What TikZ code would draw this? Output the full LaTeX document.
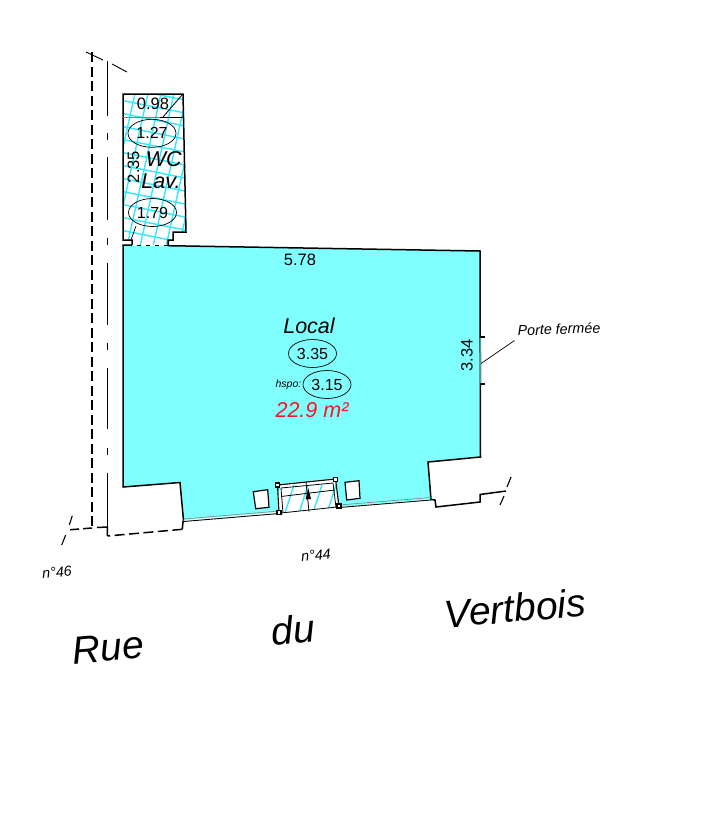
\documentclass[tikz,border=0pt]{standalone}
\usepackage{fontspec}
\setmainfont{Liberation Sans}
\usetikzlibrary{shapes.geometric}
\definecolor{roomblue}{RGB}{128,255,255}
\definecolor{hatchblue}{RGB}{50,232,250}
\tikzset{
  wall/.style={line width=1.5pt,black},
  thin wall/.style={line width=0.9pt,black},
  dim/.style={font=\fontsize{16.5}{16.5}\selectfont,inner sep=0pt},
  height mark/.style={draw,ellipse,line width=0.7pt,inner sep=0pt,font=\fontsize{16}{16}\selectfont,minimum width=48pt,minimum height=28pt},
  room name/.style={font=\itshape\fontsize{21.5}{21.5}\selectfont,inner sep=0pt},
  street/.style={font=\itshape\fontsize{39}{39}\selectfont,inner sep=0pt},
  small label/.style={font=\itshape\fontsize{14.3}{14.3}\selectfont,inner sep=0pt},
  hatch/.style={hatchblue,line width=1.4pt},
}
\begin{document}
\begin{tikzpicture}[x=1pt,y=-1pt]
\useasboundingbox (0,0) rectangle (714,820);
% main room
\fill[roomblue] (123,245) -- (480,251) -- (480.5,457) -- (428,462) -- (431,499) -- (183.5,520) -- (180,482.5) -- (123,487) -- cycle;
% WC hatch
\begin{scope}
\clip (123,94) -- (183,94) -- (186,232) -- (173,232) -- (173,240) -- (168,240) -- (168,246) -- (132,246) -- (132,240) -- (123,240) -- cycle;
\foreach \i in {0,...,15} \draw[hatch] (110,{72+\i*13}) -- (200,{90+\i*13});
\foreach \i in {0,...,11} \draw[hatch] ({125+\i*13},80) -- ({85+\i*13},260);
\end{scope}
% door hatch
\fill[white] (277.5,484.5) -- (335.5,479) -- (339,507) -- (279,513) -- cycle;
\begin{scope}
\clip (277.5,484.5) -- (335.5,479) -- (339,507) -- (279,513) -- cycle;
\foreach \i in {0,...,4} \draw[hatch] ({280+\i*14},485) -- ({271+\i*14},513);
\end{scope}
% WC outline
\draw[wall,line join=miter] (132,246) -- (132,240) -- (123,240) -- (123,94) -- (183,94) -- (186,232) -- (173,232) -- (173,240) -- (168,240) -- (168,246);
\draw[thin wall] (132,245.5) -- (168,245.5);
\draw[line width=1pt,gray] (123,117) -- (160,117);
\draw[line width=0.8pt] (160,117) -- (183,117);
\draw[line width=0.8pt] (182,95) -- (163,117);
\draw[line width=0.7pt] (136,226) -- (131,240);
\draw[white,line width=1pt,dash pattern=on 5pt off 4pt] (132,245.5) -- (168,245.5);
% main outline
\draw[wall,line join=miter] (168,245.7) -- (480,251) -- (480.5,457) -- (428,462) -- (431,499.5);
\draw[wall,line join=miter] (132,245.2) -- (123,245) -- (123,487) -- (180,482.5) -- (183.5,520.5);
% facade
\draw[line width=0.9pt] (183.5,521.5) -- (279,513.5);
\draw[line width=0.9pt] (339,507.5) -- (431,500);
\draw[line width=0.6pt,gray] (183.5,519) -- (279,511);
\draw[line width=0.6pt,gray] (339,505) -- (431,497.5);
% door
\draw[line width=1.1pt] (277.5,485) -- (335.5,479);
\draw[line width=1.1pt] (277.5,485) -- (279,513);
\draw[line width=1.1pt] (335.5,479) -- (339,506.5);
\draw[line width=0.8pt] (281,488) -- (333,483);
\draw[line width=0.8pt] (281,496.5) -- (335,490);
\draw[line width=0.8pt] (281,513) -- (337,507);
\draw[line width=0.8pt] (281,488) -- (283,513);
\draw[line width=0.8pt] (333,483) -- (336,507.5);
\draw[line width=0.8pt] (306,481.7) -- (309,511.7);
\fill (308.3,488) -- (311,499) -- (305.5,499.5) -- cycle;
\foreach \p/\a in {277.5/485,335.3/479.3,279/512.7,339/506} \draw[line width=1.1pt,fill=white] (\p-2,\a-2) rectangle (\p+2,\a+2);
% windows
\draw[line width=1.2pt,fill=white] (253.3,491.7) -- (267.7,489.7) -- (269,507.3) -- (255.7,508.7) -- cycle;
\draw[line width=1.2pt,fill=white] (345,482.3) -- (359,480.7) -- (360,498.3) -- (346.7,500) -- cycle;
% door ticks on east wall
\draw[wall] (480,337) -- (485,337);
\draw[wall] (480,384) -- (485,384);
\draw[roomblue!60!black,line width=1.5pt] (480.3,338) -- (480.4,383);
% exterior
\draw[wall,line join=miter] (431,499.5) -- (435,500) -- (436,507) -- (480,502) -- (480,494.5) -- (506,491);
\draw[line width=1.1pt] (511,477) -- (507,487);
\draw[line width=1.1pt] (504,496) -- (500,505);
\draw[line width=1.1pt] (72.3,515.7) -- (69.3,525);
\draw[line width=1.1pt] (65.7,535) -- (61.7,545);
\draw[wall] (183.5,520.5) -- (183,522) -- (182.3,529.3);
\draw[wall,dash pattern=on 10pt off 4.5pt] (182.3,529.3) -- (107.5,536);
\draw[wall] (107.5,536) -- (107.3,527) -- (97,527.5);
\draw[wall,dash pattern=on 9pt off 4pt] (92,528) -- (66.7,530);
\draw[line width=1.8pt,dash pattern=on 10pt off 4.5pt] (92,52) -- (92,528);
\foreach \a/\b in {61/116,133/140,157/220,238/245,263/325,343/350,368/429,448/455,473/527}
  \draw[line width=1.1pt] (107.5,\a) -- (107.5,\b);
\draw[line width=0.9pt] (86,52) -- (103,60);
\draw[line width=0.9pt] (112,64) -- (127,72);
% labels
\node[dim] (w098) at (153,104) {0.98};
\node[height mark] (h127) at (152,133.3) {1.27};
\node[dim,rotate=90] (w235) at (133.5,167) {2.35};
\node[room name] (wc) at (163.7,159.5) {WC};
\node[room name] (lav) at (161,181) {Lav.};
\node[height mark] (h179) at (152.5,212.5) {1.79};
\node[dim] (w578) at (300,260) {5.78};
\node[room name] (local) at (309,326) {Local};
\node[height mark] (h335) at (312.5,353.5) {3.35};
\node[height mark] (h315) at (327,384.5) {3.15};
\node[font=\itshape\fontsize{10.5}{10.5}\selectfont,inner sep=0pt] (hspo) at (288.5,385) {hspo:};
\node[font=\itshape\fontsize{21.5}{21.5}\selectfont,text={rgb,255:red,250;green,20;blue,30},inner sep=0pt] (area) at (312,410) {22.9 m²};
\node[dim,rotate=90] (w334) at (467,355.5) {3.34};
\node[small label,rotate=2] (porte) at (559,329) {Porte fermée};
\coordinate (pa) at (514.5,340.5);
\coordinate (pb) at (481,363.5);
\draw[line width=0.7pt] (pa) -- (pb);
\node[small label,rotate=5] (n46) at (57,572) {n°46};
\node[small label,rotate=5] (n44) at (316,555) {n°44};
\node[street,rotate=5] (rue) at (108,648) {Rue};
\node[street,rotate=5] (du) at (293,630) {du};
\node[street,rotate=5] (vert) at (515,608) {Vertbois};
\end{tikzpicture}
\end{document}
